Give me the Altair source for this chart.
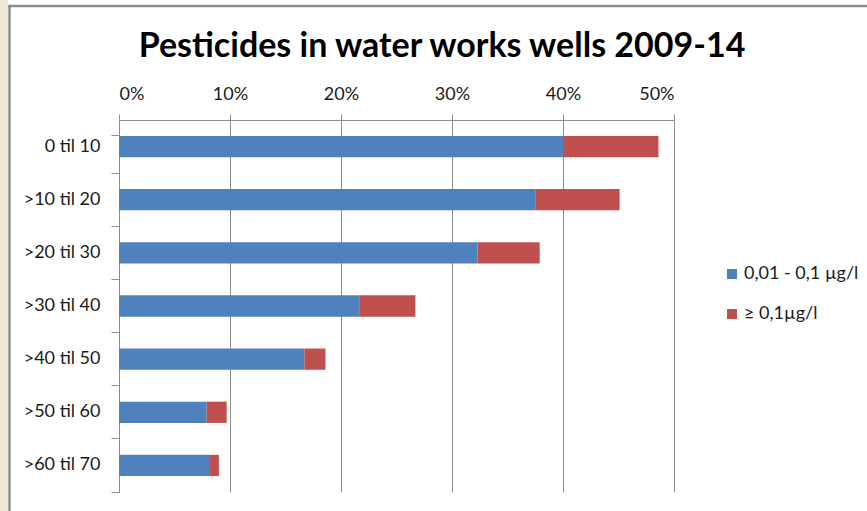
import altair as alt
import pandas as pd

categories = ["0 til 10", ">10 til 20", ">20 til 30", ">30 til 40", ">40 til 50", ">50 til 60", ">60 til 70"]
low_share = [40.0, 37.5, 32.3, 21.7, 16.7, 7.9, 8.2]
high_share = [8.6, 7.6, 5.6, 5.0, 1.9, 1.8, 0.8]
series_names = ["0,01 - 0,1 µg/l", "≥ 0,1µg/l"]
series_colors = ["#4F81BD", "#C0504D"]
x_ticks = [0, 0.1, 0.2, 0.3, 0.4, 0.5]
title_text = "Pesticides in water works wells 2009-14"

rows = []
for c, a, b in zip(categories, low_share, high_share):
    rows.append({"cat": c, "series": series_names[0], "value": a / 100, "ord": 0})
    rows.append({"cat": c, "series": series_names[1], "value": b / 100, "ord": 1})
df = pd.DataFrame(rows)

FONT = "Lato"
GRID = "#8c8c8c"
TXT = "#1a1a1a"
W, H = 555, 372

bars = alt.Chart(df).mark_bar().encode(
    y=alt.Y(
        "cat:N", sort=categories,
        scale=alt.Scale(paddingInner=0.6, paddingOuter=0.3),
        axis=alt.Axis(title=None, bandPosition=1.75, tickExtra=True, labelFontSize=18,
                      labelColor=TXT, labelFont=FONT, labelPadding=11, tickSize=8,
                      tickColor=GRID, domainColor=GRID, grid=False, labelAlign="right"),
    ),
    x=alt.X(
        "value:Q", stack="zero",
        scale=alt.Scale(domain=[0, 0.5], nice=False),
        axis=alt.Axis(orient="top", format="%", values=x_ticks, title=None, grid=True,
                      gridColor=GRID, gridOpacity=1, tickColor=GRID, tickSize=6, labelPadding=11,
                      labelFontSize=18, labelFont=FONT, labelColor=TXT, domainColor=GRID),
    ),
    color=alt.Color(
        "series:N",
        scale=alt.Scale(domain=series_names, range=series_colors),
        legend=alt.Legend(title=None, orient="none", legendX=604, legendY=145, symbolType="square",
                          symbolSize=100, labelFontSize=18, labelFont=FONT, labelColor=TXT,
                          rowPadding=22, labelOffset=3, symbolStrokeWidth=0),
    ),
    order=alt.Order("ord:Q"),
)

deco_df = pd.DataFrame({"k": [0]})
strip = alt.Chart(deco_df).mark_rect(color="#ECE9D8").encode(
    x=alt.value(-119), x2=alt.value(-111), y=alt.value(-120), y2=alt.value(391)
)
left_border = alt.Chart(deco_df).mark_rule(color="#8c8c8c", strokeWidth=2.5).encode(
    x=alt.value(-109.5), y=alt.value(-115), y2=alt.value(391)
)
top_border = alt.Chart(deco_df).mark_rule(color="#8c8c8c", strokeWidth=2.5).encode(
    x=alt.value(-110.5), x2=alt.value(748), y=alt.value(-114)
)
title = alt.Chart(pd.DataFrame({"t": [title_text]})).mark_text(
    font=FONT, fontSize=34, fontWeight="bold", color="black", align="center", baseline="alphabetic"
).encode(text="t:N", x=alt.value(323), y=alt.value(-63))

chart = alt.layer(strip, left_border, top_border, title, bars).properties(
    width=W, height=H,
    autosize=alt.AutoSizeParams(type="none"),
    padding={"left": 119, "top": 120, "right": 193, "bottom": 19},
    background="white",
).configure_view(strokeOpacity=0)

chart.save("out.html", embed_options={"renderer": "svg", "actions": False})
